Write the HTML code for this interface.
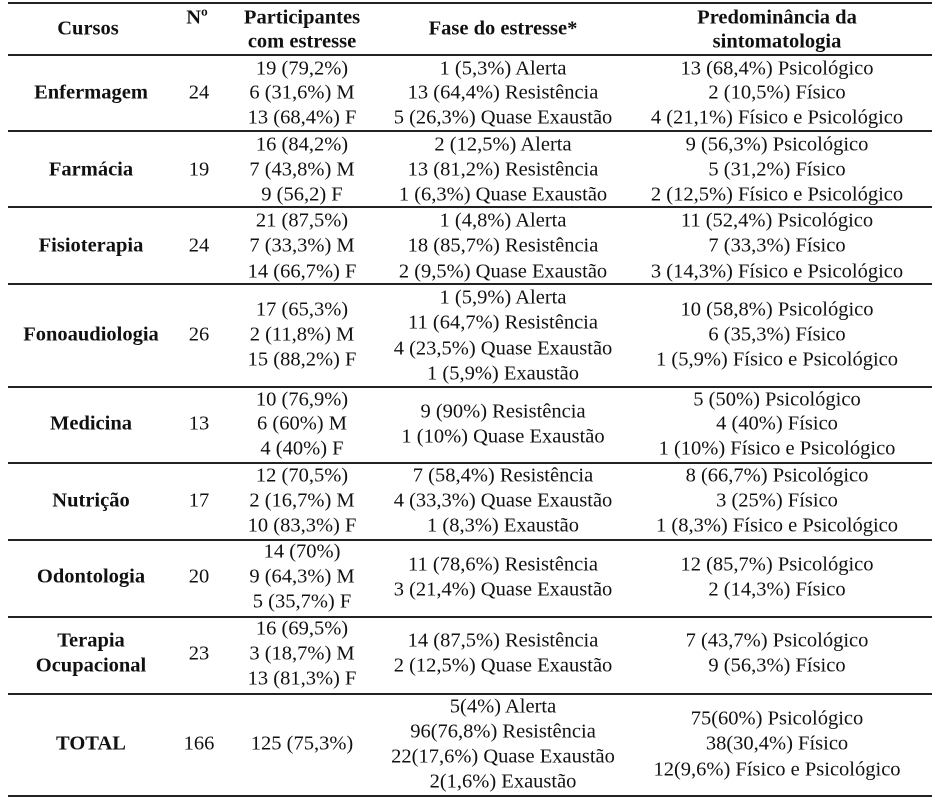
<!DOCTYPE html>
<html><head><meta charset="utf-8"><style>
body{margin:0;width:934px;height:802px;background:#fff;position:relative;overflow:hidden;font-family:"Times New Roman","Liberation Serif",Tinos,"DejaVu Serif",serif;font-size:20.5px;color:#111}
.t{position:absolute;white-space:nowrap;line-height:25px;transform:translate(-50%,-50%)}
.b{font-weight:bold}
.h{position:absolute;left:8px;width:924px;height:1.5px;background:#222}
</style></head><body>
<div class="h" style="top:2px;height:2px"></div>
<div class="h" style="top:54px"></div>
<div class="h" style="top:130px"></div>
<div class="h" style="top:206px"></div>
<div class="h" style="top:283px"></div>
<div class="h" style="top:386px"></div>
<div class="h" style="top:462px"></div>
<div class="h" style="top:539px"></div>
<div class="h" style="top:616px"></div>
<div class="h" style="top:693px"></div>
<div class="h" style="top:795px;height:2px"></div>

<div class="t b" style="left:88px;top:29px">Cursos</div>
<div class="t b" style="left:197px;top:18px">Nº</div>
<div class="t b" style="left:302px;top:18px">Participantes</div>
<div class="t b" style="left:302px;top:42px">com estresse</div>
<div class="t b" style="left:503px;top:29px">Fase do estresse*</div>
<div class="t b" style="left:777px;top:18px">Predominância da</div>
<div class="t b" style="left:777px;top:42px">sintomatologia</div>

<div class="t b" style="left:91px;top:93px">Enfermagem</div>
<div class="t" style="left:199px;top:93px">24</div>
<div class="t" style="left:302px;top:69px">19 (79,2%)</div>
<div class="t" style="left:302px;top:93px">6 (31,6%) M</div>
<div class="t" style="left:302px;top:118px">13 (68,4%) F</div>
<div class="t" style="left:503px;top:69px">1 (5,3%) Alerta</div>
<div class="t" style="left:503px;top:93px">13 (64,4%) Resistência</div>
<div class="t" style="left:503px;top:118px">5 (26,3%) Quase Exaustão</div>
<div class="t" style="left:777px;top:69px">13 (68,4%) Psicológico</div>
<div class="t" style="left:777px;top:93px">2 (10,5%) Físico</div>
<div class="t" style="left:777px;top:118px">4 (21,1%) Físico e Psicológico</div>

<div class="t b" style="left:91px;top:170px">Farmácia</div>
<div class="t" style="left:199px;top:170px">19</div>
<div class="t" style="left:302px;top:145px">16 (84,2%)</div>
<div class="t" style="left:302px;top:170px">7 (43,8%) M</div>
<div class="t" style="left:302px;top:195px">9 (56,2) F</div>
<div class="t" style="left:503px;top:145px">2 (12,5%) Alerta</div>
<div class="t" style="left:503px;top:170px">13 (81,2%) Resistência</div>
<div class="t" style="left:503px;top:195px">1 (6,3%) Quase Exaustão</div>
<div class="t" style="left:777px;top:145px">9 (56,3%) Psicológico</div>
<div class="t" style="left:777px;top:170px">5 (31,2%) Físico</div>
<div class="t" style="left:777px;top:195px">2 (12,5%) Físico e Psicológico</div>

<div class="t b" style="left:91px;top:246px">Fisioterapia</div>
<div class="t" style="left:199px;top:246px">24</div>
<div class="t" style="left:302px;top:221px">21 (87,5%)</div>
<div class="t" style="left:302px;top:246px">7 (33,3%) M</div>
<div class="t" style="left:302px;top:272px">14 (66,7%) F</div>
<div class="t" style="left:503px;top:221px">1 (4,8%) Alerta</div>
<div class="t" style="left:503px;top:246px">18 (85,7%) Resistência</div>
<div class="t" style="left:503px;top:272px">2 (9,5%) Quase Exaustão</div>
<div class="t" style="left:777px;top:221px">11 (52,4%) Psicológico</div>
<div class="t" style="left:777px;top:246px">7 (33,3%) Físico</div>
<div class="t" style="left:777px;top:272px">3 (14,3%) Físico e Psicológico</div>

<div class="t b" style="left:91px;top:335px">Fonoaudiologia</div>
<div class="t" style="left:199px;top:335px">26</div>
<div class="t" style="left:302px;top:310px">17 (65,3%)</div>
<div class="t" style="left:302px;top:335px">2 (11,8%) M</div>
<div class="t" style="left:302px;top:360px">15 (88,2%) F</div>
<div class="t" style="left:503px;top:298px">1 (5,9%) Alerta</div>
<div class="t" style="left:503px;top:323px">11 (64,7%) Resistência</div>
<div class="t" style="left:503px;top:349px">4 (23,5%) Quase Exaustão</div>
<div class="t" style="left:503px;top:374px">1 (5,9%) Exaustão</div>
<div class="t" style="left:777px;top:310px">10 (58,8%) Psicológico</div>
<div class="t" style="left:777px;top:335px">6 (35,3%) Físico</div>
<div class="t" style="left:777px;top:360px">1 (5,9%) Físico e Psicológico</div>

<div class="t b" style="left:91px;top:424px">Medicina</div>
<div class="t" style="left:199px;top:424px">13</div>
<div class="t" style="left:302px;top:400px">10 (76,9%)</div>
<div class="t" style="left:302px;top:424px">6 (60%) M</div>
<div class="t" style="left:302px;top:449px">4 (40%) F</div>
<div class="t" style="left:503px;top:412px">9 (90%) Resistência</div>
<div class="t" style="left:503px;top:437px">1 (10%) Quase Exaustão</div>
<div class="t" style="left:777px;top:400px">5 (50%) Psicológico</div>
<div class="t" style="left:777px;top:424px">4 (40%) Físico</div>
<div class="t" style="left:777px;top:449px">1 (10%) Físico e Psicológico</div>

<div class="t b" style="left:91px;top:501px">Nutrição</div>
<div class="t" style="left:199px;top:501px">17</div>
<div class="t" style="left:302px;top:476px">12 (70,5%)</div>
<div class="t" style="left:302px;top:501px">2 (16,7%) M</div>
<div class="t" style="left:302px;top:526px">10 (83,3%) F</div>
<div class="t" style="left:503px;top:476px">7 (58,4%) Resistência</div>
<div class="t" style="left:503px;top:501px">4 (33,3%) Quase Exaustão</div>
<div class="t" style="left:503px;top:526px">1 (8,3%) Exaustão</div>
<div class="t" style="left:777px;top:476px">8 (66,7%) Psicológico</div>
<div class="t" style="left:777px;top:501px">3 (25%) Físico</div>
<div class="t" style="left:777px;top:526px">1 (8,3%) Físico e Psicológico</div>

<div class="t b" style="left:91px;top:577px">Odontologia</div>
<div class="t" style="left:199px;top:577px">20</div>
<div class="t" style="left:302px;top:552px">14 (70%)</div>
<div class="t" style="left:302px;top:577px">9 (64,3%) M</div>
<div class="t" style="left:302px;top:602px">5 (35,7%) F</div>
<div class="t" style="left:503px;top:565px">11 (78,6%) Resistência</div>
<div class="t" style="left:503px;top:590px">3 (21,4%) Quase Exaustão</div>
<div class="t" style="left:777px;top:565px">12 (85,7%) Psicológico</div>
<div class="t" style="left:777px;top:590px">2 (14,3%) Físico</div>

<div class="t b" style="left:91px;top:641px">Terapia</div>
<div class="t b" style="left:91px;top:666px">Ocupacional</div>
<div class="t" style="left:199px;top:654px">23</div>
<div class="t" style="left:302px;top:629px">16 (69,5%)</div>
<div class="t" style="left:302px;top:654px">3 (18,7%) M</div>
<div class="t" style="left:302px;top:679px">13 (81,3%) F</div>
<div class="t" style="left:503px;top:641px">14 (87,5%) Resistência</div>
<div class="t" style="left:503px;top:666px">2 (12,5%) Quase Exaustão</div>
<div class="t" style="left:777px;top:641px">7 (43,7%) Psicológico</div>
<div class="t" style="left:777px;top:666px">9 (56,3%) Físico</div>

<div class="t b" style="left:91px;top:744px">TOTAL</div>
<div class="t" style="left:199px;top:744px">166</div>
<div class="t" style="left:302px;top:744px">125 (75,3%)</div>
<div class="t" style="left:503px;top:707px">5(4%) Alerta</div>
<div class="t" style="left:503px;top:732px">96(76,8%) Resistência</div>
<div class="t" style="left:503px;top:757px">22(17,6%) Quase Exaustão</div>
<div class="t" style="left:503px;top:782px">2(1,6%) Exaustão</div>
<div class="t" style="left:777px;top:719px">75(60%) Psicológico</div>
<div class="t" style="left:777px;top:744px">38(30,4%) Físico</div>
<div class="t" style="left:777px;top:770px">12(9,6%) Físico e Psicológico</div>
</body></html>
